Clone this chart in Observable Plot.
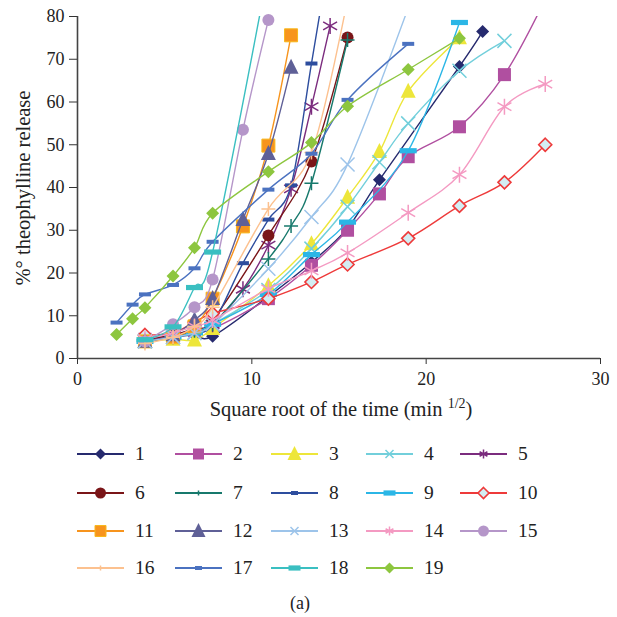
<!DOCTYPE html>
<html><head><meta charset="utf-8">
<script src="https://cdn.jsdelivr.net/npm/d3@7"></script>
<script src="https://cdn.jsdelivr.net/npm/@observablehq/plot@0.6"></script>
<style>
body{margin:0;background:#fff;font-family:"Liberation Serif",serif;}
#chart svg,#legend svg{display:block}
</style></head><body><div id="chart"></div><div id="legend"></div>
<script>
// ---- data (x = square root of time, min^1/2 ; y = % theophylline release)
const seriesNames = ["1","2","3","4","5","6","7","8","9","10","11","12","13","14","15","16","17","18","19"];
const s1x = [3.87,5.48,6.71,7.75,10.95,13.42,15.49,17.32,21.91,23.24];
const s1y = [4,5,5.5,5.2,14.5,22.5,30.5,41.8,68.3,76.5];
const s2x = [3.87,5.48,6.71,7.75,10.95,13.42,15.49,17.32,18.97,21.91,24.49,26.83];
const s2y = [4.5,5,6.5,7,14,21.8,30,38.5,47.2,54.2,66.4,84];
const s3x = [3.87,5.48,6.71,7.75,10.95,13.42,15.49,17.32,18.97,21.91];
const s3y = [4,4.5,4.3,7,17,26.8,37.7,48.4,62.5,75];
const s4x = [3.87,5.48,6.71,7.75,10.95,13.42,15.49,17.32,18.97,21.91,24.49];
const s4y = [4,5,6,8,16,25.7,35.5,45.9,55,67.3,74.3];
const s5x = [3.87,5.48,6.71,7.75,9.49,10.95,12.25,13.42,14.49];
const s5y = [4.5,5.5,7,8,16.2,26.5,39.7,58.9,77.8];
const s6x = [3.87,5.48,6.71,7.75,10.95,13.42,15.49];
const s6y = [4.5,5.5,7,9,28.8,46.1,75.1];
const s7x = [3.87,5.48,6.71,7.75,10.95,12.25,13.42,15.49];
const s7y = [4,5,6.5,8,23.3,31,41,74.5];
const s8x = [3.87,5.48,6.71,7.75,9.49,10.95,12.25,13.42,14.49];
const s8y = [4,5,6,8,22.3,32.5,40.5,69,95];
const s9x = [3.87,5.48,6.71,7.75,10.95,13.42,15.49,18.97,21.91];
const s9y = [4,5,6,8,15,24.3,31.9,48.6,78.6];
const s10x = [3.87,5.48,6.71,7.75,10.95,13.42,15.49,18.97,21.91,24.49,26.83];
const s10y = [5.5,6,8.5,10.5,14,17.9,22,28.1,35.7,41.2,50];
const s11x = [3.87,5.48,6.71,7.75,9.49,10.95,12.25];
const s11y = [4,5,7.5,14,30.9,49.8,75.6];
const s12x = [3.87,5.48,6.71,7.75,9.49,10.95,12.25];
const s12y = [4,5.5,9,14,32.5,47.9,68.1];
const s13x = [3.87,5.48,6.71,7.75,10.95,13.42,15.49,18.97];
const s13y = [4,5,6,8,21,33.1,45.4,82];
const s14x = [3.87,5.48,6.71,7.75,10.95,13.42,15.49,18.97,21.91,24.49,26.83];
const s14y = [4.5,6,7.5,9,16.3,20.5,24.7,34.1,43,58.9,64.2];
const s15x = [3.87,5.48,6.71,7.75,9.49,10.95];
const s15y = [4,8,12,18.5,53.5,79.2];
const s16x = [3.87,5.48,6.71,7.75,10.95,13.42,15.49];
const s16y = [3.5,5,7.5,12,35,48.2,84];
const s17x = [2.24,3.16,3.87,5.48,6.71,7.75,10.95,13.42,15.49,18.97];
const s17y = [8.4,12.6,15,17.2,21.1,27.3,39.5,47.9,60.5,73.6];
const s18x = [3.87,5.48,6.71,7.75,10.95];
const s18y = [4.4,7.4,16.6,24.9,91];
const s19x = [2.24,3.16,3.87,5.48,6.71,7.75,10.95,13.42,15.49,18.97,21.91];
const s19y = [5.6,9.3,11.9,19.3,25.9,34,43.7,50.5,59,67.6,74.9];
const xTicks = [0,10,20,30];
const yTicks = [0,10,20,30,40,50,60,70,80];
const xLabel = "Square root of the time (min";
const xLabelSup = "1/2";
const yLabel = "%\u00B0 theophylline release";
const caption = "(a)";

const xs = [s1x,s2x,s3x,s4x,s5x,s6x,s7x,s8x,s9x,s10x,s11x,s12x,s13x,s14x,s15x,s16x,s17x,s18x,s19x];
const ys = [s1y,s2y,s3y,s4y,s5y,s6y,s7y,s8y,s9y,s10y,s11y,s12y,s13y,s14y,s15y,s16y,s17y,s18y,s19y];
const data = [];
seriesNames.forEach((n,i)=>xs[i].forEach((x,j)=>data.push({series:n,x,y:ys[i][j]})));

// ---- styles
const FONT = "'Liberation Serif', 'Times New Roman', serif";
const colors = ["#262A6E","#B04FA0","#EDE63A","#72CFDB","#7B2C7E","#7A1518","#17796C","#2D4D9E","#2BB6E6","#EE3A3A","#F7941D","#5F6097","#9DC4EA","#F49AC2","#B596C9","#FCC18F","#4B72C0","#3ABFC1","#8DC63F"];
const symKeys = ["diamond","square","triangle","times","asterisk","circle","plus","dash","dashWide","diamond","square","triangle","times","asterisk","circle","plus","dash","dashWide","diamond"];
const R = v=>Math.sqrt(v/Math.PI);
const sym = {
  diamond:{draw(c,s){const r=R(s);c.moveTo(0,-r);c.lineTo(r,0);c.lineTo(0,r);c.lineTo(-r,0);c.closePath();}},
  square:{draw(c,s){const r=R(s);c.rect(-r,-r,2*r,2*r);}},
  triangle:{draw(c,s){const r=R(s);c.moveTo(0,-r*1.15);c.lineTo(r,r*0.85);c.lineTo(-r,r*0.85);c.closePath();}},
  circle:{draw(c,s){const r=R(s);c.moveTo(r,0);c.arc(0,0,r,0,2*Math.PI);}},
  times:{draw(c,s){const r=R(s);c.moveTo(-r,-r);c.lineTo(r,r);c.moveTo(-r,r);c.lineTo(r,-r);}},
  asterisk:{draw(c,s){const r=R(s);c.moveTo(0,-r);c.lineTo(0,r);c.moveTo(-0.87*r,-0.5*r);c.lineTo(0.87*r,0.5*r);c.moveTo(-0.87*r,0.5*r);c.lineTo(0.87*r,-0.5*r);}},
  plus:{draw(c,s){const r=R(s);c.moveTo(-r,0);c.lineTo(r,0);c.moveTo(0,-r);c.lineTo(0,r);}},
  dash:{draw(c,s){const r=R(s);c.rect(-r,-2,2*r,4);}},
  dashWide:{draw(c,s){const r=R(s);c.rect(-r,-2.6,2*r,5.2);}}
};
const strokeOnly = new Set(["times","asterisk","plus"]);
const plotR = {diamond:6.5,square:6.5,triangle:7.5,times:7,asterisk:8,circle:6,plus:7,dash:6,dashWide:8.5};
const legR = {diamond:5.5,square:5.5,triangle:7,times:4,asterisk:4.5,circle:5.5,plus:2.5,dash:3.5,dashWide:6};

function dotStyle(i){
  const k=symKeys[i];
  if (i===9) return {fill:"#D3EEF3",stroke:colors[i],strokeWidth:1.6};
  if (i===10) return {fill:colors[i],stroke:"#F8B81C",strokeWidth:1};
  if (strokeOnly.has(k)) return {fill:"none",stroke:colors[i],strokeWidth:1.5};
  return {fill:colors[i],stroke:"none"};
}

const marks = [];
seriesNames.forEach((n,i)=>{
  const rows = data.filter(d=>d.series===n);
  marks.push(Plot.line(rows,{x:"x",y:"y",stroke:colors[i],strokeWidth:1.4,curve:"cardinal",tension:0,clip:true}));
  marks.push(Plot.dot(rows.filter(d=>d.y<=80),{x:"x",y:"y",symbol:sym[symKeys[i]],r:plotR[symKeys[i]],...dotStyle(i)}));
});

const chart = Plot.plot({
  width:617, height:430,
  marginTop:16, marginBottom:72, marginLeft:77, marginRight:17,
  style:{fontFamily:FONT,fontSize:"17px",color:"#222",background:"#fff"},
  x:{domain:[0,30]},
  y:{domain:[0,80]},
  marks:[
    Plot.axisX({ticks:xTicks,tickSize:6,tickPadding:8,label:null,fontSize:18,fontFamily:FONT,stroke:"#333"}),
    Plot.axisY({ticks:yTicks,tickSize:8,tickPadding:5,label:null,fontSize:18,fontFamily:FONT,stroke:"#333"}),
    ...marks,
    Plot.ruleY([0],{stroke:"#444",strokeWidth:1.6}),
    Plot.ruleX([0],{stroke:"#444",strokeWidth:1.6})
  ]
});
document.getElementById("chart").appendChild(chart);
const svg = d3.select(chart);
const xt = svg.append("text").attr("x",341).attr("y",416).attr("text-anchor","middle")
  .attr("font-family",FONT).attr("font-size",20.5).attr("fill","#222");
xt.append("tspan").text(xLabel+" ");
xt.append("tspan").attr("font-size",14).attr("dy",-8).text(xLabelSup);
xt.append("tspan").attr("dy",8).text(")");
svg.append("text").attr("transform","translate(30,188) rotate(-90)").attr("text-anchor","middle")
  .attr("font-family",FONT).attr("font-size",20.5).attr("fill","#222").text(yLabel);

// ---- legend
const leg = d3.select("#legend").append("svg").attr("width",617).attr("height",187)
  .style("font-family",FONT);
const rowY=[24,63,101,138], colX=[77,175,271,366,460];
seriesNames.forEach((n,i)=>{
  const c=i%5, r=Math.floor(i/5);
  const g=leg.append("g").attr("transform",`translate(${colX[c]},${rowY[r]})`);
  g.append("line").attr("x1",0).attr("x2",47).attr("y1",0).attr("y2",0).attr("stroke",colors[i]).attr("stroke-width",1.8);
  const k=symKeys[i], st=dotStyle(i), rr=legR[k];
  g.append("path").attr("transform","translate(23.5,0)")
    .attr("d",d3.symbol(sym[k],rr*rr*Math.PI)())
    .attr("fill",st.fill).attr("stroke",st.stroke).attr("stroke-width",st.strokeWidth||0);
  g.append("text").attr("x",58).attr("y",6).attr("font-family",FONT).attr("font-size",19.5).attr("fill","#222").text(n);
});
leg.append("text").attr("x",300).attr("y",179).attr("text-anchor","middle").attr("font-family",FONT).attr("font-size",18).attr("fill","#222").text(caption);
</script></body></html>
